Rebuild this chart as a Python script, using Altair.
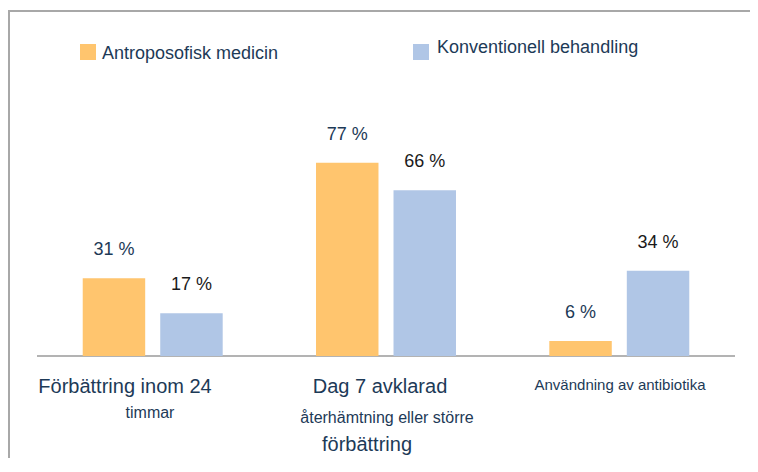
import altair as alt
import pandas as pd

categories = [
    "Förbättring inom 24 timmar",
    "Dag 7 avklarad återhämtning eller större förbättring",
    "Användning av antibiotika",
]
series = ["Antroposofisk medicin", "Konventionell behandling"]
am_values = [31, 77, 6]
cb_values = [17, 66, 34]
bar_colors = ["#FFC56E", "#B0C6E6"]

# category label lines as printed under the groups
cat_lines = [
    "Förbättring inom 24",
    "timmar",
    "Dag 7 avklarad",
    "återhämtning eller större",
    "förbättring",
    "Användning av antibiotika",
]

rows = []
for c, a, b in zip(categories, am_values, cb_values):
    rows.append({"cat": c, "series": series[0], "value": a, "label": f"{a} %"})
    rows.append({"cat": c, "series": series[1], "value": b, "label": f"{b} %"})
df = pd.DataFrame(rows)
one = pd.DataFrame({"k": [0]})

FONT = "Liberation Sans"
NAVY = "#1d3a57"
DARK = "#1a1a1a"

x_enc = alt.X("cat:N", sort=categories,
              scale=alt.Scale(paddingInner=0.4, paddingOuter=0.196), axis=None)
xo_enc = alt.XOffset("series:N", sort=series,
                     scale=alt.Scale(paddingInner=0.194, paddingOuter=0))
y_enc = alt.Y("value:Q", scale=alt.Scale(domain=[0, 100]), axis=None)

base = alt.Chart(df)

bars = base.mark_bar().encode(
    x=x_enc, xOffset=xo_enc, y=y_enc,
    color=alt.Color("series:N", scale=alt.Scale(domain=series, range=bar_colors), legend=None),
)

labels = base.mark_text(font=FONT, fontSize=18, baseline="middle", dy=-28).encode(
    x=x_enc, xOffset=xo_enc, y=y_enc, text="label:N",
    color=alt.condition(alt.datum.series == series[0], alt.value(NAVY), alt.value(DARK)),
)

baseline = alt.Chart(one).mark_rule(color="#9a9a9a", strokeWidth=1.5).encode(
    y=alt.value(251), x=alt.value(0), x2=alt.value(698)
)

frame_top = alt.Chart(one).mark_rule(color="#a8a8a8", strokeWidth=2).encode(
    y=alt.value(-94), x=alt.value(-29), x2=alt.value(713)
)
frame_left = alt.Chart(one).mark_rule(color="#a8a8a8", strokeWidth=2).encode(
    x=alt.value(-28), y=alt.value(-95), y2=alt.value(353)
)

def txt(s, x, y, size, align="center", color=NAVY):
    return alt.Chart(pd.DataFrame({"t": [s]})).mark_text(
        font=FONT, fontSize=size, align=align, baseline="middle", color=color
    ).encode(x=alt.value(x), y=alt.value(y), text="t:N")

cat_texts = [
    txt(cat_lines[0], 88, 282, 20),
    txt(cat_lines[1], 113, 308, 16),
    txt(cat_lines[2], 343, 282, 20),
    txt(cat_lines[3], 350, 313, 16),
    txt(cat_lines[4], 330, 340, 20),
    txt(cat_lines[5], 583, 280, 15),
]

def sq(color, x, y):
    return alt.Chart(one).mark_square(size=256, opacity=1, color=color).encode(
        x=alt.value(x), y=alt.value(y)
    )

legend = [
    sq(bar_colors[0], 51, -53),
    txt(series[0], 65, -51, 18, align="left"),
    sq(bar_colors[1], 384, -53),
    txt(series[1], 400, -57, 18, align="left"),
]

chart = alt.layer(frame_top, frame_left, baseline, bars, labels, *cat_texts, *legend).properties(
    width=698,
    height=251,
    autosize=alt.AutoSizeParams(type="none"),
    padding={"left": 29, "top": 97, "right": 15, "bottom": 102},
    background="white",
).configure_view(stroke=None)

chart.save("out.html", embed_options={"renderer": "svg", "actions": False})
